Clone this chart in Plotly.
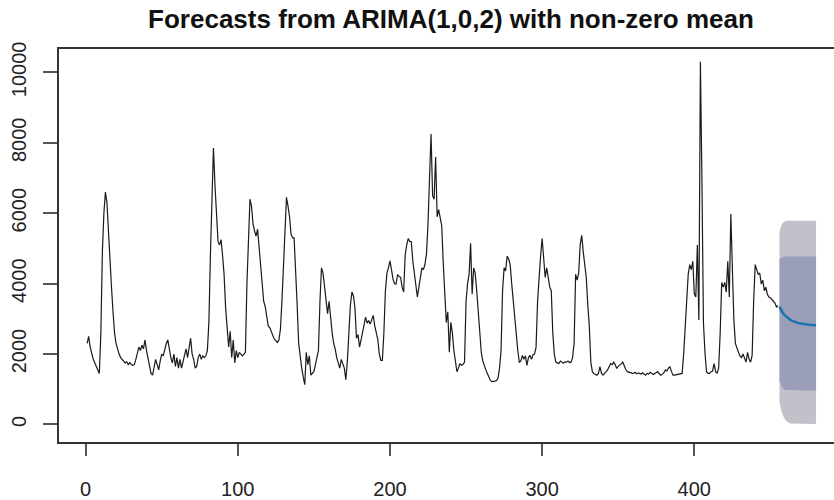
import plotly.graph_objects as go

title_text = "Forecasts from ARIMA(1,0,2) with non-zero mean"

# observed series, t = 1..455
series_values = [
    2300, 2500, 2200, 2000, 1850, 1750, 1650, 1550, 1450, 2600,
    4900, 6000, 6600, 6300, 5400, 4600, 3900, 3200, 2600, 2300,
    2100, 2000, 1900, 1850, 1800, 1750, 1780, 1700, 1760, 1700,
    1680, 1700, 1850, 2050, 2200, 2100, 2250, 2150, 2400, 2100,
    1900, 1650, 1450, 1400, 1600, 1850, 1700, 1550, 1800, 2000,
    1950, 2150, 2300, 2400, 2100, 1900, 1750, 2000, 1650, 1900,
    1600, 1850, 1600, 1800, 2000, 2150, 1900, 2200, 2450, 2000,
    1850, 1600, 1650, 1900, 2000, 1850, 1950, 1900, 1950, 2100,
    2900, 4800, 6500, 7850, 6800, 5900, 5200, 5100, 5250, 4800,
    4250, 3300, 2600, 2200, 2650, 1900, 2400, 1750, 2100, 1900,
    2050, 2000, 1950, 2000, 2050, 4000, 5500, 6400, 6200, 5700,
    5500, 5350, 5550, 5000, 4400, 3800, 3500, 3350, 3000, 2800,
    2750, 2650, 2500, 2420, 2380, 2330, 2400, 2700, 3500, 4600,
    5500, 6450, 6200, 5900, 5400, 5300, 5300, 4500, 3400, 2300,
    1900, 1600, 1350, 1130, 2050, 1700, 1950, 1400, 1450, 1500,
    1700, 1900, 2100, 3500, 4450, 4300, 3900, 3600, 3150, 3500,
    3000, 2600, 2300, 2150, 1900, 1770, 1600, 1850, 1700, 1600,
    1270, 1800, 2600, 3400, 3760, 3650, 3300, 2450, 2550, 2200,
    2400, 2600, 2900, 3050, 2880, 2950, 2850, 3000, 3100, 2800,
    2550, 2420, 2000, 1820, 1820, 2600, 3800, 4300, 4450, 4650,
    4400, 4130, 4000, 3990, 4260, 4200, 4180, 3900, 3760, 4820,
    5100, 5280, 5200, 5190, 4650, 4300, 4080, 3620, 3900, 4200,
    4450, 4400, 4550, 4850, 5700, 7000, 8250, 6500, 6400, 7600,
    5900, 6100, 5900, 5650, 4600, 3900, 2900, 3200, 2050, 2900,
    2600, 2100, 1860, 1500, 1600, 1730, 1680, 1700, 1770, 3500,
    4000, 4265, 5150, 3700, 4450, 4300, 3800, 3250, 2600, 2050,
    1800, 1650, 1550, 1450, 1350, 1250, 1220, 1220, 1230, 1250,
    1310, 1600, 2100, 3800, 4450, 4360, 4780, 4700, 4540, 4000,
    3500, 3000, 2600, 2100, 1770, 1800, 1960, 1850, 1950, 1680,
    1900, 1960, 1850, 1980, 2000, 2190, 3500, 4300, 4800, 5280,
    4800, 4175, 4450, 4100, 3900, 3800, 2600, 2000, 1770, 1750,
    1730, 1800, 1760, 1740, 1780, 1770, 1800, 1760, 1770, 1900,
    2300, 4265, 4100, 4300, 5100, 5375, 4910, 4600, 4175, 3400,
    2790, 1770, 1500, 1450, 1420, 1400, 1450, 1640, 1450, 1400,
    1450, 1500, 1550, 1640, 1730, 1700, 1770, 1700, 1590, 1650,
    1680, 1720, 1770, 1650, 1560, 1500, 1480, 1470, 1460, 1450,
    1480, 1440, 1460, 1450, 1430, 1470, 1420, 1400, 1450, 1430,
    1480, 1460, 1420, 1450, 1480, 1500, 1440, 1400, 1430, 1470,
    1550, 1520, 1600, 1640, 1500, 1400, 1400, 1410, 1400, 1420,
    1440, 1450, 2000, 2790, 3700, 4265, 4540, 4400, 4635, 3710,
    3620, 5100, 2970, 10300, 6950, 2880, 2050, 1500, 1450, 1450,
    1500, 1520, 1730, 1500, 1450, 1600, 2600, 4035, 3900, 4035,
    3760, 4635, 3620, 5975, 4450, 2970, 2300, 2150, 2050, 1950,
    1900, 2000, 1850, 1770, 2050, 1850, 1770, 1960, 3500, 4540,
    4400, 4265, 4300, 3990, 4100, 3800, 3900, 3700, 3620, 3600,
    3550, 3480, 3450, 3340, 3380,
]
series_time = list(range(1, len(series_values) + 1))

# forecast, t = 456..480
fc_time = list(range(456, 481))
fc_mean = [3345, 3250, 3180, 3120, 3080, 3040, 3005, 2975, 2950, 2930,
           2912, 2897, 2885, 2873, 2864, 2856, 2849, 2843, 2838, 2833,
           2829, 2826, 2823, 2820, 2818]
fc_hi95 = [5450, 5640, 5720, 5760, 5780, 5790, 5790, 5790, 5790, 5790,
           5790, 5790, 5790, 5790, 5790, 5790, 5790, 5790, 5790, 5790,
           5790, 5790, 5790, 5790, 5790]
fc_lo95 = [620, 420, 280, 190, 120, 80, 50, 30, 20, 15,
           10, 10, 10, 10, 10, 10, 10, 10, 10, 10,
           10, 10, 10, 10, 10]
fc_hi80 = [4690, 4740, 4760, 4770, 4770, 4770, 4770, 4770, 4770, 4770,
           4770, 4770, 4770, 4770, 4770, 4770, 4770, 4770, 4770, 4770,
           4770, 4770, 4770, 4770, 4770]
fc_lo80 = [1250, 1120, 1040, 1000, 980, 970, 965, 960, 960, 960,
           960, 960, 960, 960, 960, 960, 960, 960, 960, 960,
           960, 960, 960, 960, 960]

x_ticks = [0, 100, 200, 300, 400]
y_ticks = [0, 2000, 4000, 6000, 8000, 10000]

fig = go.Figure()
fig.add_trace(go.Scatter(
    x=fc_time + fc_time[::-1], y=fc_hi95 + fc_lo95[::-1],
    fill="toself", fillcolor="#C1C1C9", line=dict(width=0),
    mode="lines", hoverinfo="skip", showlegend=False))
fig.add_trace(go.Scatter(
    x=fc_time + fc_time[::-1], y=fc_hi80 + fc_lo80[::-1],
    fill="toself", fillcolor="#9A9EB9", line=dict(width=0),
    mode="lines", hoverinfo="skip", showlegend=False))
fig.add_trace(go.Scatter(
    x=series_time, y=series_values, mode="lines",
    line=dict(color="#1a1a1a", width=1.2), showlegend=False))
fig.add_trace(go.Scatter(
    x=fc_time, y=fc_mean, mode="lines",
    line=dict(color="#1A73AE", width=2.5), showlegend=False))

font_family = "Liberation Sans, Arial, sans-serif"
fig.update_layout(
    width=834, height=500,
    margin=dict(l=59, r=0, t=49, b=48),
    paper_bgcolor="white", plot_bgcolor="white",
    font=dict(family=font_family, size=20, color="#222222"),
    title=dict(text="<b>" + title_text + "</b>",
               font=dict(family=font_family, size=26, color="#111111"),
               xref="container", x=451 / 834, xanchor="center",
               yref="container", y=1 - 19 / 500, yanchor="middle"),
    showlegend=False,
)
fig.update_xaxes(
    range=[-17.5, 491.8], tickvals=x_ticks, ticktext=[str(v) for v in x_ticks],
    showgrid=False, zeroline=False,
    showline=True, linecolor="#333333", linewidth=1.5, mirror=True,
    ticks="outside", ticklen=12, tickwidth=1.5, tickcolor="#555555",
    ticklabelstandoff=16,
)
fig.update_yaxes(
    range=[-498, 10665], tickvals=y_ticks, ticktext=[str(v) for v in y_ticks],
    tickangle=-90,
    showgrid=False, zeroline=False,
    showline=True, linecolor="#333333", linewidth=1.5, mirror=False,
    ticks="outside", ticklen=14, tickwidth=1.5, tickcolor="#555555",
    ticklabelstandoff=9,
)

fig.write_html("out.html")
